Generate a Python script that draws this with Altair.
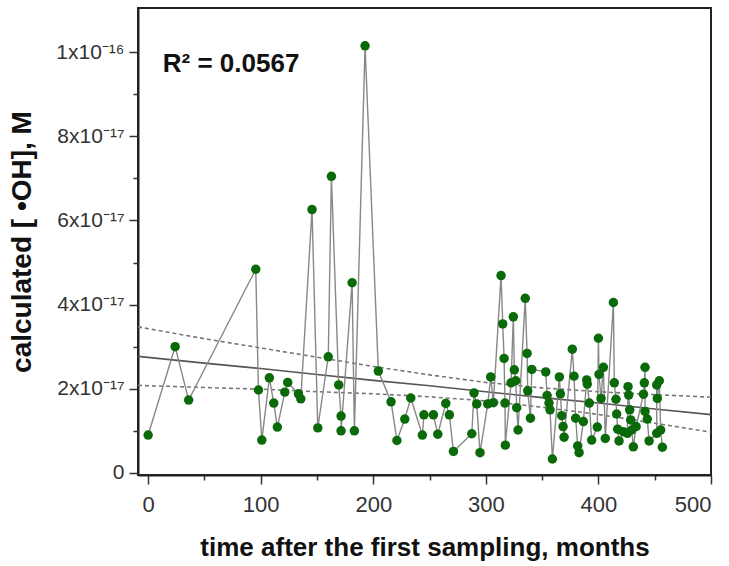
import altair as alt
import pandas as pd

# months after first sampling
months = [0, 24, 36, 95.6, 98, 101, 107.7, 111.6, 114.8, 121.4, 124, 133.5, 135.6,
          145.6, 150.7, 160, 162.8, 169.3, 171.4, 171.4, 181.2, 183.2, 192.7, 204.5,
          215.8, 221, 228, 233.3, 243.6, 245, 253.4, 257.3, 264.4, 267.6, 271.2,
          287.5, 289.5, 291.9, 294.8, 301.7, 304.3, 306.7, 313.5, 315, 316.2, 317,
          317.3, 322.4, 324.4, 325.3, 326.6, 327.4, 328.6, 335, 336.6, 337.2, 339.6,
          340.8, 353.2, 354.4, 356.1, 357, 359.1, 365.3, 366.2, 367.4, 368.6, 369.5,
          376.8, 378.3, 379.8, 381.6, 382.8, 386.6, 389.6, 390.1, 391.9, 394, 399,
          400, 400.5, 402.3, 404.4, 406.1, 413.3, 414.1, 415.6, 416.2, 417.1, 418.3,
          422.1, 425.7, 426.3, 426.9, 427.8, 428.7, 429.6, 431, 433.5, 440, 440.8,
          441.4, 441.4, 443.4, 445, 451.8, 451.8, 452.3, 454.1, 455.3, 456.8]
# calculated [OH] in units of 1e-17 M
oh = [0.90, 3.00, 1.73, 4.84, 1.97, 0.78, 2.26, 1.66, 1.09, 1.92, 2.15, 1.88, 1.76,
      6.26, 1.07, 2.76, 7.05, 2.09, 1.35, 1.00, 4.52, 1.00, 10.15, 2.42,
      1.69, 0.77, 1.28, 1.78, 0.90, 1.38, 1.38, 0.92, 1.65, 1.38, 0.51,
      0.93, 1.90, 1.64, 0.48, 1.64, 2.28, 1.67, 4.69, 3.54, 2.72, 1.66,
      0.66, 2.14, 3.71, 2.45, 2.19, 1.55, 1.02, 4.15, 2.84, 1.95, 1.30,
      2.46, 2.40, 1.84, 1.66, 1.50, 0.33, 2.28, 1.88, 1.36, 1.10, 0.85,
      2.94, 2.30, 1.30, 0.64, 0.48, 1.22, 2.21, 2.11, 1.66, 0.78, 1.09,
      3.20, 2.34, 1.77, 2.51, 0.82, 4.05, 2.14, 1.75, 1.40, 1.04, 0.76,
      0.98, 0.94, 2.05, 1.85, 1.50, 1.26, 1.02, 0.62, 1.10, 1.87, 2.14,
      2.51, 1.46, 1.28, 0.76, 0.94, 2.09, 1.77, 2.19, 1.02, 0.61]

# linear fit and confidence band, units 1e-17 M
fit_x = [-9, 50, 100, 150, 200, 250, 300, 350, 400, 450, 500]
fit_mid = [2.77, 2.61, 2.48, 2.34, 2.20, 2.07, 1.93, 1.79, 1.66, 1.52, 1.385]
fit_up = [3.47, 3.19, 2.97, 2.75, 2.53, 2.33, 2.15, 2.02, 1.93, 1.86, 1.80]
fit_lo = [2.08, 2.03, 1.99, 1.93, 1.88, 1.81, 1.71, 1.56, 1.39, 1.18, 0.97]

r2_label = "R\u00b2 = 0.0567"

FONT = "Liberation Sans"
GREEN = "#0a6a0a"

df = pd.DataFrame({"t": months, "oh": oh, "i": list(range(len(months)))})
band = pd.DataFrame({
    "t": fit_x * 2,
    "v": fit_up + fit_lo,
    "k": ["up"] * len(fit_x) + ["lo"] * len(fit_x),
})
mid = pd.DataFrame({"t": fit_x, "v": fit_mid})
txt = pd.DataFrame({"t": [13], "v": [9.72], "s": [r2_label]})

xscale = alt.Scale(domain=[-9, 500], nice=False, zero=False)
yscale = alt.Scale(domain=[-0.05, 11.05], nice=False, zero=False)

xaxis = alt.Axis(
    values=list(range(0, 501, 50)),
    labelExpr="datum.value % 100 == 0 ? datum.label : ''",
    format="d",
    tickSize={"condition": {"test": "datum.value % 100 != 0", "value": 5}, "value": 9},
    tickWidth=1.5,
    tickColor="#333",
    labelPadding=10,
    labelFontSize=22,
    labelFont=FONT,
    labelColor="#333",
    title="time after the first sampling, months",
    titleFont=FONT,
    titleFontSize=26,
    titleFontWeight="bold",
    titleColor="#111",
    titlePadding=19,
    grid=False,
    domainColor="#222",
    domainWidth=2,
)
yaxis = alt.Axis(
    values=list(range(0, 11)),
    labelExpr="datum.value == 0 ? '0' : datum.value == 10 ? '1x10\u207b\u00b9\u2076' : (datum.value % 2 == 0 ? datum.value + 'x10\u207b\u00b9\u2077' : '')",
    tickSize={"condition": {"test": "datum.value % 2 == 1", "value": 5}, "value": 9},
    tickWidth=1.5,
    tickColor="#333",
    labelPadding=5,
    labelFontSize=21,
    labelFont=FONT,
    labelColor="#333",
    title="calculated [ \u2022OH], M",
    titleFont=FONT,
    titleFontSize=28,
    titleFontWeight="bold",
    titleColor="#111",
    titlePadding=19,
    grid=False,
    domainColor="#222",
    domainWidth=2,
)

bands = alt.Chart(band).mark_line(color="#777", strokeWidth=1.6, strokeDash=[4, 3]).encode(
    x=alt.X("t:Q", scale=xscale, axis=xaxis),
    y=alt.Y("v:Q", scale=yscale, axis=yaxis),
    detail="k:N",
)
midline = alt.Chart(mid).mark_line(color="#555", strokeWidth=1.6).encode(
    x=alt.X("t:Q", scale=xscale),
    y=alt.Y("v:Q", scale=yscale),
)
conn = alt.Chart(df).mark_line(color="#888", strokeWidth=1.4).encode(
    x=alt.X("t:Q", scale=xscale),
    y=alt.Y("oh:Q", scale=yscale),
    order="i:Q",
)
pts = alt.Chart(df).mark_circle(color=GREEN, opacity=1, size=90).encode(
    x=alt.X("t:Q", scale=xscale),
    y=alt.Y("oh:Q", scale=yscale),
)
label = alt.Chart(txt).mark_text(
    align="left", baseline="middle", font=FONT, fontSize=26, fontWeight="bold", color="#111"
).encode(
    x=alt.X("t:Q", scale=xscale),
    y=alt.Y("v:Q", scale=yscale),
    text="s:N",
)

chart = alt.layer(bands, midline, conn, pts, label).properties(
    width=573,
    height=467,
    autosize=alt.AutoSizeParams(type="none"),
    padding={"left": 138, "top": 8, "right": 18, "bottom": 91},
    background="white",
).configure_view(stroke="#222", strokeWidth=2)

chart.save("out.html", embed_options={"renderer": "svg", "actions": False})
